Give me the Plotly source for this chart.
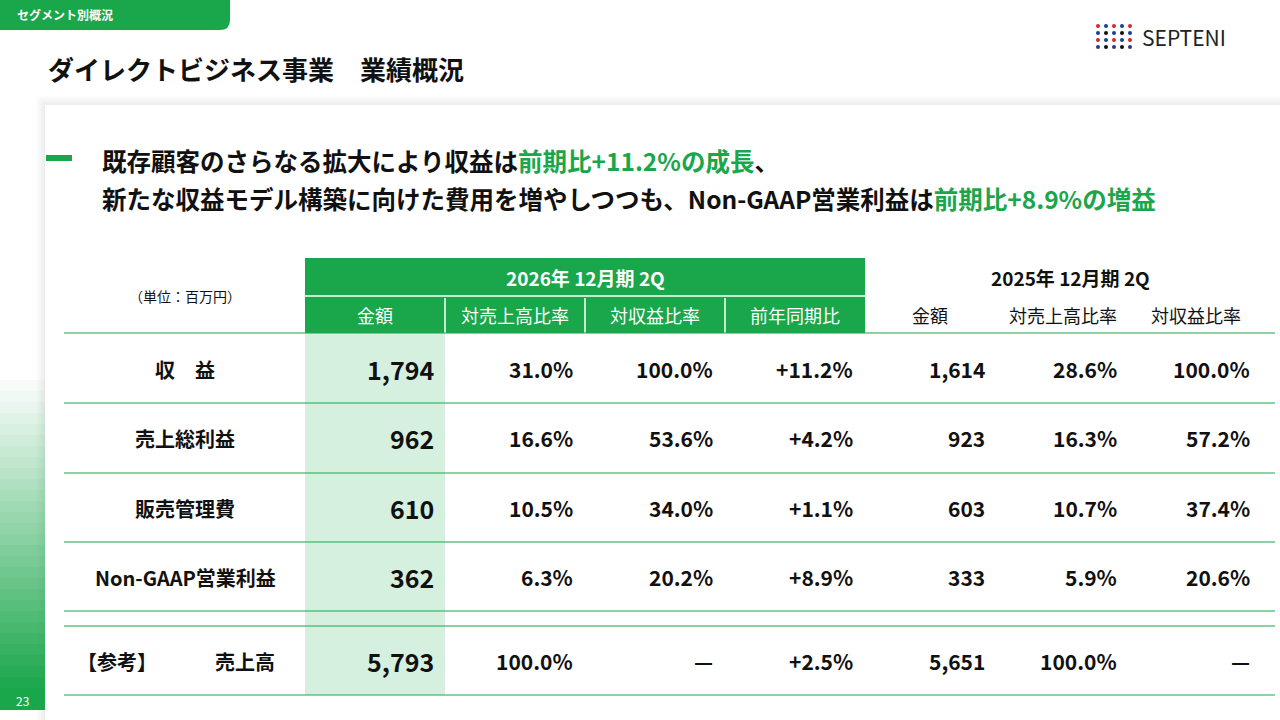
import plotly.graph_objects as go

GREEN = "#1aa64a"
LIGHT = "#d5f0df"
FONT = "Noto Sans CJK JP"

row_labels = ["収　益", "売上総利益", "販売管理費", "Non-GAAP営業利益"]
cur_amount = ["1,794", "962", "610", "362"]
cur_sales_ratio = ["31.0%", "16.6%", "10.5%", "6.3%"]
cur_rev_ratio = ["100.0%", "53.6%", "34.0%", "20.2%"]
cur_yoy = ["+11.2%", "+4.2%", "+1.1%", "+8.9%"]
prev_amount = ["1,614", "923", "603", "333"]
prev_sales_ratio = ["28.6%", "16.3%", "10.7%", "5.9%"]
prev_rev_ratio = ["100.0%", "57.2%", "37.4%", "20.6%"]

ref_label = "売上高"
ref_values = ["5,793", "100.0%", "—", "+2.5%", "5,651", "100.0%", "—"]

cur_period = "2026年 12月期 2Q"
prev_period = "2025年 12月期 2Q"
cur_cols = ["金額", "対売上高比率", "対収益比率", "前年同期比"]
prev_cols = ["金額", "対売上高比率", "対収益比率"]

fig = go.Figure()
shapes = []
ann = []


def text(x, y, s, size=16, color="#111", xanchor="center", bold=True):
    ann.append(dict(x=x, y=y, text=f"<b>{s}</b>" if bold else s, showarrow=False,
                    xanchor=xanchor, yanchor="middle",
                    font=dict(family=FONT, size=size, color=color)))


def rect(x0, y0, x1, y1, color, line=None, opacity=1):
    shapes.append(dict(type="rect", x0=x0, y0=y0, x1=x1, y1=y1, fillcolor=color,
                       opacity=opacity, line=dict(width=0) if line is None else line,
                       layer="below"))


def hline(x0, x1, y, color=GREEN, w=1.2):
    shapes.append(dict(type="line", x0=x0, x1=x1, y0=y, y1=y, line=dict(color=color, width=w)))


# panel with soft shadow
for i in range(10):
    rect(45 - i, 105 - i, 1280, 720, "#000000", opacity=0.008)
rect(45, 105, 1280, 720, "white")
# left gradient strip
for i in range(30):
    y0 = 380 + i * 11
    rect(0, y0, 45, y0 + 11, GREEN, opacity=min(1, 0.03 + i * 0.035))
text(22, 700, "23", size=12, color="white", bold=False)

# section tab
shapes.append(dict(type="path", path="M0,0 L230,0 L230,20 Q230,30 220,30 L0,30 Z",
                   fillcolor=GREEN, line=dict(width=0)))
text(15, 14, "セグメント別概況", size=12, color="white", xanchor="left")
text(46, 68, "ダイレクトビジネス事業　業績概況", size=26, xanchor="left")

# logo
lx = [1098, 1106, 1114, 1122, 1130]
ly = [26, 33, 40, 47]
for j, y in enumerate(ly):
    fig.add_trace(go.Scatter(x=lx, y=[y] * len(lx), mode="markers", hoverinfo="skip",
                             marker=dict(size=4, color=["#d7262c", "#1c3f94", "#d7262c", "#1c3f94", "#d7262c"]
                                         if j % 2 == 0 else ["#1c3f94", "#111", "#1c3f94", "#111", "#1c3f94"])))
text(1140, 37, "SEPTENI", size=21, color="#222", xanchor="left", bold=False)

# headline
rect(46, 155, 72, 161, GREEN)
text(100, 160, f"既存顧客のさらなる拡大により収益は<span style='color:{GREEN}'>前期比+11.2%の成長</span>、",
     size=24.5, xanchor="left")
text(100, 198, f"新たな収益モデル構築に向けた費用を増やしつつも、Non-GAAP営業利益は<span style='color:{GREEN}'>前期比+8.9%の増益</span>",
     size=24.5, xanchor="left")

# table header
rect(305, 258, 865, 333, GREEN)
rect(305, 333, 445, 695, LIGHT)
hline(305, 865, 296, "white", 1.5)
for x in [445, 585, 725]:
    shapes.append(dict(type="line", x0=x, x1=x, y0=298, y1=333, line=dict(color="white", width=1.5)))
text(185, 296, "（単位：百万円）", size=14, bold=False)
text(585, 277, cur_period, size=19, color="white")
text(1070, 277, prev_period, size=19)
for c, s in zip([375, 515, 655, 795], cur_cols):
    text(c, 315, s, size=18, color="white", bold=False)
for c, s in zip([930, 1063, 1196], prev_cols):
    text(c, 315, s, size=18, bold=False)

rights = [436, 575, 715, 855, 987, 1119, 1252]
row_y = [369, 438, 508, 577]
for y in [333, 403, 473, 542, 611, 626, 695]:
    hline(64, 1275, y)
for i, y in enumerate(row_y):
    text(185, y, row_labels[i], size=20)
    vals = [cur_amount[i], cur_sales_ratio[i], cur_rev_ratio[i], cur_yoy[i],
            prev_amount[i], prev_sales_ratio[i], prev_rev_ratio[i]]
    for k, (x, v) in enumerate(zip(rights, vals)):
        text(x, y, v, size=25 if k == 0 else 21, xanchor="right")
text(75, 661, "【参考】", size=20, xanchor="left")
text(245, 661, ref_label, size=20)
for k, (x, v) in enumerate(zip(rights, ref_values)):
    text(x, 661, v, size=25 if k == 0 else 21, xanchor="right")

fig.update_layout(
    width=1280, height=720, margin=dict(l=0, r=0, t=0, b=0),
    paper_bgcolor="white", plot_bgcolor="white", showlegend=False,
    xaxis=dict(range=[0, 1280], visible=False, fixedrange=True),
    yaxis=dict(range=[720, 0], visible=False, fixedrange=True),
    shapes=shapes, annotations=ann,
)
fig.write_html("out.html", config={"displayModeBar": False},
               post_script="document.body.style.margin='0';")
